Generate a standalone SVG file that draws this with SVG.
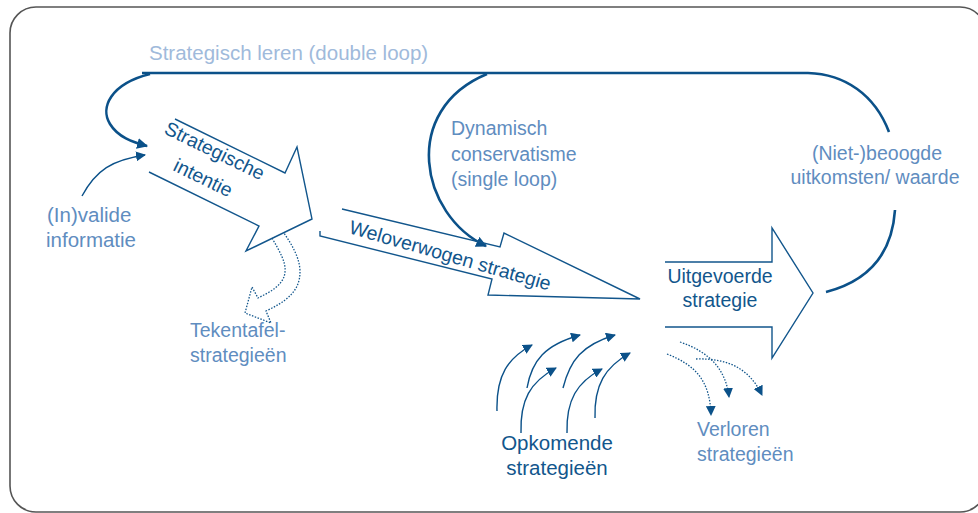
<svg xmlns="http://www.w3.org/2000/svg" width="978" height="513" viewBox="0 0 978 513">
<defs>
<style>
.t{font-family:"Liberation Sans",Arial,sans-serif;font-size:19.5px}
.big{font-size:20.5px}
.dk{fill:#12568c}
.md{fill:#5f8dbf}
.lt{fill:#a0badb}
.blk{fill:none;stroke:#12568c;stroke-width:1.4;stroke-linejoin:miter}
.loop{fill:none;stroke:#0b5189;stroke-width:2.6}
.thin{fill:none;stroke:#0b5189;stroke-width:1.4}
.dot{fill:none;stroke:#12568c;stroke-width:1.3;stroke-dasharray:1.5 1.5}
</style>
<marker id="ah" viewBox="0 0 10 10" refX="9" refY="5" markerWidth="10" markerHeight="10" markerUnits="userSpaceOnUse" orient="auto">
<path d="M0,0 L10,5 L0,10 Z" fill="#0b5189"/>
</marker>
<marker id="ahL" viewBox="0 0 10 10" refX="9" refY="5" markerWidth="11" markerHeight="11" markerUnits="userSpaceOnUse" orient="auto">
<path d="M0,0 L10,5 L0,10 Z" fill="#0b5189"/>
</marker>
</defs>
<rect x="0" y="0" width="978" height="513" fill="#fff"/>
<rect x="10" y="7" width="976" height="505" rx="26" fill="none" stroke="#555" stroke-width="1.6"/>

<g id="connectors">
<path class="loop" d="M142,73 L808,73 C845,74 875,95 889,132"/>
<path class="loop" d="M895,210 C893,240 880,278 826,292"/>
<path class="loop" marker-end="url(#ahL)" d="M150,74 C110,84 100,108 110,124 C118,137 132,142 147,146"/>
<path class="thin" marker-end="url(#ah)" d="M82,196 C96,170 112,160 145,155"/>
<path class="loop" marker-end="url(#ahL)" d="M487,74 C400,110 420,215 486,246"/>
<path class="thin" marker-end="url(#ah)" d="M497,411 C496,375 508,358 532,345"/>
<path class="thin" marker-end="url(#ah)" d="M527,388 C532,360 545,345 580,335"/>
<path class="thin" marker-end="url(#ah)" d="M521,433 C520,400 530,382 556,368"/>
<path class="thin" marker-end="url(#ah)" d="M563,388 C570,360 582,345 615,335"/>
<path class="thin" marker-end="url(#ah)" d="M567,433 C566,400 577,382 602,369"/>
<path class="thin" marker-end="url(#ah)" d="M595,418 C594,385 605,367 630,353"/>
<path class="dot" marker-end="url(#ah)" d="M667,354 C695,365 710,380 711,415"/>
<path class="dot" marker-end="url(#ah)" d="M680,342 C710,352 726,370 729,397"/>
<path class="dot" marker-end="url(#ah)" d="M696,359 C730,358 750,370 762,395"/>
</g>

<g id="strategisch-leren"><text class="t big lt" x="149" y="60">Strategisch leren (double loop)</text></g>

<g id="strategische-intentie">
<path class="blk" d="M175,119 L285,173 L297,147 L312,219 L246,251 L259,226 L149,172"/>
<text class="t dk" transform="translate(163,133) rotate(26)">Strategische</text>
<text class="t dk" transform="translate(172,170) rotate(26)">intentie</text>
</g>

<g id="tekentafel">
<path class="dot" d="M272,238 C280,252 286,262 285,272 C284,285 270,292 258,298 L252,287 L245,313 L271,323 L266,311 C285,302 300,292 300,272 C300,258 292,245 284,233"/>
<text class="t md" x="190" y="337">Tekentafel-</text>
<text class="t md" x="190" y="362">strategieën</text>
</g>

<g id="invalide">
<text class="t big md" x="47" y="222">(In)valide</text>
<text class="t big md" x="46" y="247">informatie</text>
</g>

<g id="weloverwogen">
<path class="blk" d="M342,209 L500,247 L504,233 L640,299 L488,295 L492,279 L320,236 L320,231"/>
<text class="t dk" transform="translate(348,233) rotate(16)">Weloverwogen strategie</text>
</g>

<g id="dynamisch">
<text class="t md" x="451" y="135">Dynamisch</text>
<text class="t md" x="451" y="161">conservatisme</text>
<text class="t md" x="451" y="186">(single loop)</text>
</g>

<g id="uitgevoerde">
<path class="blk" d="M665,262 L772,262 L772,228 L813,293 L772,358 L772,327 L665,327"/>
<text class="t dk" x="720" y="283" text-anchor="middle">Uitgevoerde</text>
<text class="t dk" x="720" y="307" text-anchor="middle">strategie</text>
</g>

<g id="beoogde">
<text class="t md" x="877" y="160" text-anchor="middle">(Niet-)beoogde</text>
<text class="t md" x="875" y="184" text-anchor="middle">uitkomsten/ waarde</text>
</g>

<g id="opkomende">
<text class="t big dk" x="557" y="450" text-anchor="middle">Opkomende</text>
<text class="t big dk" x="557" y="475" text-anchor="middle">strategieën</text>
</g>

<g id="verloren">
<text class="t md" x="697" y="436">Verloren</text>
<text class="t md" x="697" y="461">strategieën</text>
</g>
</svg>
